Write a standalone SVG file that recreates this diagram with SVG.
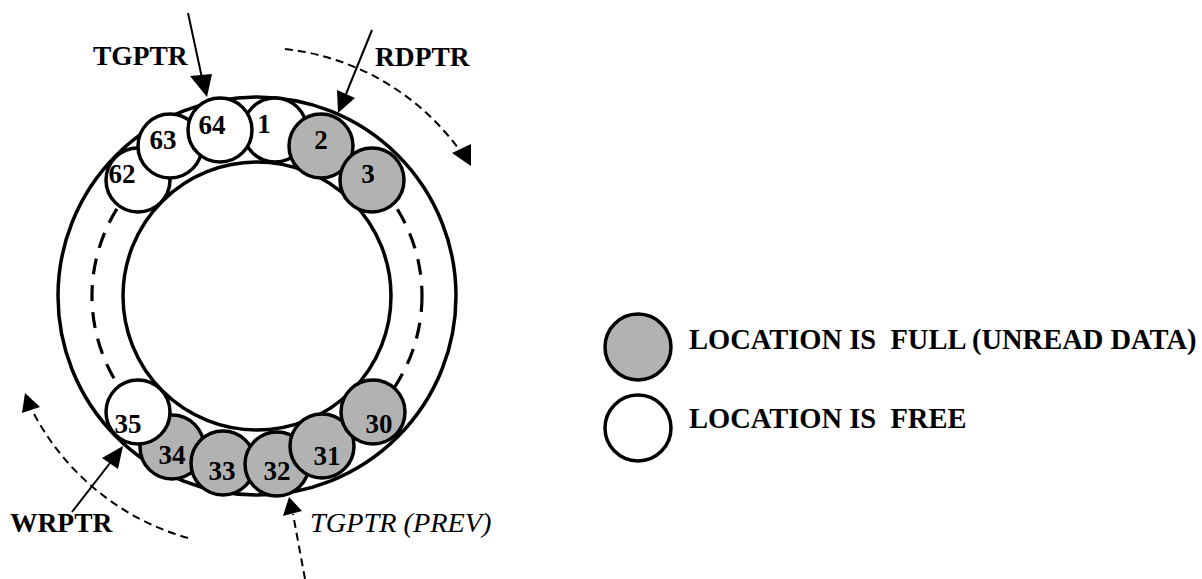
<svg xmlns="http://www.w3.org/2000/svg" width="1202" height="579" viewBox="0 0 1202 579">
<style>
.ring{fill:none;stroke:#000;stroke-width:3.5}
.dash{fill:none;stroke:#000;stroke-width:3.2;stroke-dasharray:16 11}
.full{fill:#b2b2b2;stroke:#000;stroke-width:3.5}
.free{fill:#fff;stroke:#000;stroke-width:3.5}
.num{font-family:"Liberation Serif","Times New Roman",serif;font-weight:bold;font-size:27px;text-anchor:middle;fill:#000}
.lbl{font-family:"Liberation Serif","Times New Roman",serif;font-weight:bold;font-size:27.5px;fill:#000}
.ital{font-family:"Liberation Serif","Times New Roman",serif;font-style:italic;font-size:28.3px;fill:#000}
.leg{font-family:"Liberation Serif","Times New Roman",serif;font-weight:bold;font-size:28.5px;fill:#000}
.line{fill:none;stroke:#000;stroke-width:2}
.dline{fill:none;stroke:#000;stroke-width:2;stroke-dasharray:8 5}
.head{fill:#000;stroke:none}
</style>
<rect width="1202" height="579" fill="#fff"/>
<g id="buffer-ring">
<circle class="ring" cx="257" cy="296" r="199"/>
<circle class="ring" cx="257" cy="296" r="134" fill="#fff"/>
<circle class="dash" cx="257" cy="296" r="165"/>
</g>
<g id="loc-1"><circle class="free" cx="275" cy="130" r="32"/><text class="num" x="264" y="133">1</text></g>
<g id="loc-62"><circle class="free" cx="138" cy="180" r="32"/><text class="num" x="122" y="183">62</text></g>
<g id="loc-63"><circle class="free" cx="170" cy="146" r="32"/><text class="num" x="163" y="149">63</text></g>
<g id="loc-64"><circle class="free" cx="220" cy="130" r="32"/><text class="num" x="212" y="134">64</text></g>
<g id="loc-2"><circle class="full" cx="321" cy="146" r="32"/><text class="num" x="321" y="149">2</text></g>
<g id="loc-3"><circle class="full" cx="372" cy="180" r="32"/><text class="num" x="368" y="183">3</text></g>
<g id="loc-34"><circle class="full" cx="172" cy="447" r="32"/><text class="num" x="172" y="464">34</text></g>
<g id="loc-35"><circle class="free" cx="138" cy="412" r="32"/><text class="num" x="128" y="433">35</text></g>
<g id="loc-33"><circle class="full" cx="223" cy="463" r="32"/><text class="num" x="222" y="480">33</text></g>
<g id="loc-32"><circle class="full" cx="277" cy="464" r="32"/><text class="num" x="277" y="480">32</text></g>
<g id="loc-31"><circle class="full" cx="322" cy="446" r="32"/><text class="num" x="327" y="465">31</text></g>
<g id="loc-30"><circle class="full" cx="373" cy="412" r="32"/><text class="num" x="379" y="433">30</text></g>
<g id="label-tgptr"><text class="lbl" x="93" y="65">TGPTR</text></g>
<g id="label-rdptr"><text class="lbl" x="375" y="66">RDPTR</text></g>
<g id="label-wrptr"><text class="lbl" x="10" y="532">WRPTR</text></g>
<g id="label-tgptr-prev"><text class="ital" x="310" y="532">TGPTR (PREV)</text></g>
<g id="legend-full"><circle class="full" cx="638" cy="347" r="33"/><text class="leg" x="689" y="349">LOCATION IS&#160; FULL (UNREAD DATA)</text></g>
<g id="legend-free"><circle class="free" cx="638" cy="428" r="33"/><text class="leg" x="689" y="428">LOCATION IS&#160; FREE</text></g>
<g id="connectors">
<line class="line" x1="188" y1="13" x2="202" y2="78"/>
<polygon class="head" points="190,76 212,74 207,97"/>
<line class="line" x1="372" y1="30" x2="346" y2="94"/>
<polygon class="head" points="337,90 355,98 338,113"/>
<path class="dline" d="M285,49 A249,249 0 0,1 458,148"/>
<polygon class="head" points="452,153 471,144 471,166"/>
<line class="line" x1="72" y1="512" x2="110" y2="463"/>
<polygon class="head" points="102,458 118,469 123,446"/>
<path class="dline" d="M188,538 A252,252 0 0,1 33,412"/>
<polygon class="head" points="25,393 22,413 40,407"/>
<line class="dline" x1="305" y1="579" x2="293" y2="514"/>
<polygon class="head" points="283,516 302,511 289,497"/>
</g>
</svg>
